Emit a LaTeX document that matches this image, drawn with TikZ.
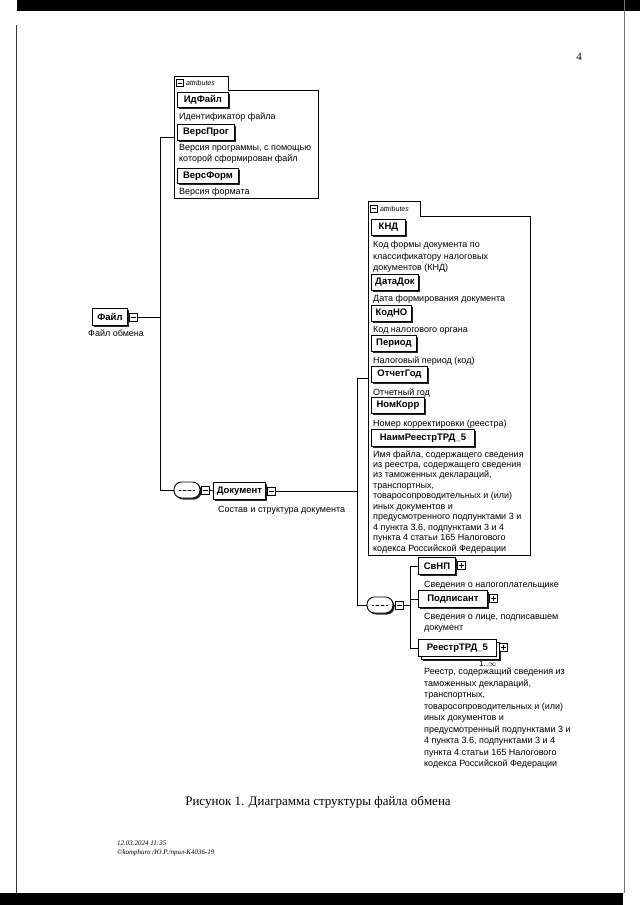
\documentclass[tikz,border=0pt]{standalone}
\usepackage{fontspec}
\setmainfont{Liberation Sans}
\newfontfamily\serif{Liberation Serif}
\usetikzlibrary{shadows,calc}
\begin{document}
\begin{tikzpicture}[x=1pt,y=-1pt,
  con/.style={line width=0.8pt},
  attline/.style={line width=0.8pt},
  desc/.style={anchor=north west, yshift=8.05pt, inner sep=0pt, align=left, font=\fontsize{9}{11.5}\selectfont, execute at begin node=\strut},
  desctight/.style={anchor=north west, yshift=7.3pt, inner sep=0pt, align=left, font=\fontsize{9}{10.45}\selectfont, execute at begin node=\strut},
  elbase/.style={draw, line width=0.9pt, fill=white, anchor=north west, inner sep=0pt, font=\bfseries\fontsize{9.5}{11}\selectfont},
  el/.style={elbase, general shadow={shadow xshift=2pt, shadow yshift=-2pt, fill=black!85}},
  elmult/.style={elbase, general shadow={shadow xshift=4.5pt, shadow yshift=-4.5pt, fill=black!85},
                 general shadow={shadow xshift=2.5pt, shadow yshift=-2.5pt, fill=white, draw=black, line width=0.8pt}},
  ibox/.style={draw, fill=white, minimum size=8pt, inner sep=0pt, line width=0.7pt},
  imin/.style={ibox, path picture={\draw[line width=0.8pt] ([xshift=1.5pt]path picture bounding box.west) -- ([xshift=-1.5pt]path picture bounding box.east);}},
  iplus/.style={ibox, path picture={\draw[line width=0.8pt] ([xshift=1.5pt]path picture bounding box.west) -- ([xshift=-1.5pt]path picture bounding box.east); \draw[line width=0.8pt] ([yshift=-1.5pt]path picture bounding box.north) -- ([yshift=1.5pt]path picture bounding box.south);}},
  comp/.style={draw, line width=0.9pt, fill=white, rounded corners=7.5pt, minimum width=26pt, minimum height=16pt, inner sep=0pt,
     general shadow={shadow xshift=1.5pt, shadow yshift=-1.5pt, fill=black!85},
     path picture={\draw[line width=0.8pt] ([xshift=5pt]path picture bounding box.west) -- ([xshift=-5pt]path picture bounding box.east);
       \foreach \d in {-5,0,5} \fill ([xshift=\d pt]path picture bounding box.center) circle (1.2pt);}},
  attab/.style={anchor=west, inner sep=0pt, font=\itshape\fontsize{7}{8}\selectfont}
]
\useasboundingbox (0,0) rectangle (640,905);
% scan edges
\fill[black] (17,0) rectangle (640,11);
\fill[black] (0,893) rectangle (623,905);
\draw[line width=1.2pt, black!80] (16.5,25) -- (16.5,893);
\draw[line width=0.8pt, black!55] (624,0) -- (624,893);

\node[font=\serif\fontsize{11}{12}\selectfont] (pg) at (579,57) {4};

% ---- File ----
\node[el, minimum width=35pt, minimum height=17pt] (file) at (92,308) {Файл};
\node[imin] (fI) at (133,317) {};
\node[desc] (fileD) at (88,336) {Файл обмена};

% ---- attributes 1 ----
\node[inner sep=0pt, anchor=north west, minimum width=144pt, minimum height=108pt] (att1) at (174,90) {};
\node[inner sep=0pt, anchor=south west, minimum width=54pt, minimum height=13pt] (tab1) at (att1.north west) {};
\draw[attline, fill=white] (att1.south west) -- (tab1.north west) -- (tab1.north east) -- (tab1.south east) -- (att1.north east) -- (att1.south east) -- cycle;
\node[imin, minimum size=7pt] (tab1i) at ($(tab1.west)+(6,0)$) {};
\node[attab] (tab1t) at ($(tab1i.east)+(2,0)$) {attributes};
\coordinate (att1c) at ($(tab1.north west)!0.5!(att1.south west)$);

\node[el, minimum width=51pt, minimum height=15pt] (idf) at (177,92) {ИдФайл};
\node[desc] (idfD) at (179,119) {Идентификатор файла};
\node[el, minimum width=57pt, minimum height=16pt] (vprog) at (177,124) {ВерсПрог};
\node[desc] (vprogD) at (179,152) {Версия программы, с помощью\\которой сформирован файл};
\node[el, minimum width=61pt, minimum height=15pt] (vform) at (177,168) {ВерсФорм};
\node[desc] (vformD) at (179,194) {Версия формата};

% ---- sequence 1 and Документ ----
\node[comp] (comp1) at (187,490) {};
\node[imin] (c1I) at (205,490) {};
\node[el, minimum width=52pt, minimum height=17pt] (doc) at (213,482) {Документ};
\node[imin] (docI) at (271,491) {};
\node[desc] (docD) at (218,512) {Состав и структура документа};

% ---- attributes 2 ----
\node[inner sep=0pt, anchor=north west, minimum width=162pt, minimum height=339pt] (att2) at (368,216) {};
\node[inner sep=0pt, anchor=south west, minimum width=52pt, minimum height=14pt] (tab2) at (att2.north west) {};
\draw[attline, fill=white] (att2.south west) -- (tab2.north west) -- (tab2.north east) -- (tab2.south east) -- (att2.north east) -- (att2.south east) -- cycle;
\node[imin, minimum size=7pt] (tab2i) at ($(tab2.west)+(6,0)$) {};
\node[attab] (tab2t) at ($(tab2i.east)+(2,0)$) {attributes};
\coordinate (att2c) at ($(tab2.north west)!0.5!(att2.south west)$);

\node[el, minimum width=34pt, minimum height=16pt] (knd) at (371,219) {КНД};
\node[desc] (kndD) at (373,249) {Код формы документа по\\классификатору налоговых\\документов (КНД)};
\node[el, minimum width=47pt, minimum height=16pt] (datadok) at (371,274) {ДатаДок};
\node[desc] (datadokD) at (373,301) {Дата формирования документа};
\node[el, minimum width=40pt, minimum height=16pt] (kodno) at (371,305) {КодНО};
\node[desc] (kodnoD) at (373,332) {Код налогового органа};
\node[el, minimum width=45pt, minimum height=16pt] (period) at (371,335) {Период};
\node[desc] (periodD) at (373,363) {Налоговый период (код)};
\node[el, minimum width=56pt, minimum height=16pt] (otch) at (371,366) {ОтчетГод};
\node[desc] (otchD) at (373,395) {Отчетный год};
\node[el, minimum width=53pt, minimum height=16pt] (nomk) at (371,397) {НомКорр};
\node[desc] (nomkD) at (373,426) {Номер корректировки (реестра)};
\node[el, minimum width=103pt, minimum height=17pt] (naim) at (371,429) {НаимРеестрТРД\_5};
\node[desctight] (naimD) at (373,457.5) {Имя файла, содержащего сведения\\из реестра, содержащего сведения\\из таможенных деклараций,\\транспортных,\\товаросопроводительных и (или)\\иных документов и\\предусмотренного подпунктами 3 и\\4 пункта 3.6, подпунктами 3 и 4\\пункта 4 статьи 165 Налогового\\кодекса Российской Федерации};

% ---- sequence 2 ----
\node[comp] (comp2) at (380,605) {};
\node[imin] (c2I) at (399,605) {};
\node[el, minimum width=37pt, minimum height=17pt] (sanp) at (418,557) {СвНП};
\node[iplus] (sanpI) at (461,565.5) {};
\node[desc] (sanpD) at (424,587) {Сведения о налогоплательщике};
\node[el, minimum width=69pt, minimum height=17pt] (podp) at (418,590) {Подписант};
\node[iplus] (podpI) at (493,598.5) {};
\node[desc] (podpD) at (424,621) {Сведения о лице, подписавшем\\документ};
\node[elmult, minimum width=78pt, minimum height=17pt] (reestr) at (418,639) {РеестрТРД\_5};
\node[iplus] (reestrI) at (503,647.5) {};
\node[anchor=base west, inner sep=0pt, font=\fontsize{8}{9}\selectfont] (occ) at (479,666) {1..$\infty$};
\node[desc] (reestrD) at (424,676) {Реестр, содержащий сведения из\\таможенных деклараций,\\транспортных,\\товаросопроводительных и (или)\\иных документов и\\предусмотренный подпунктами 3 и\\4 пункта 3.6, подпунктами 3 и 4\\пункта 4 статьи 165 Налогового\\кодекса Российской Федерации};

% ---- connectors ----
\coordinate (spA) at (160,0);
\coordinate (spB) at (357,0);
\coordinate (spC) at (410,0);
\draw[con] (fI.east) -- (fI.east -| spA);
\draw[con] (att1c) -| (spA |- comp1.west) -- (comp1.west);
\draw[con] (comp1.east) -- (c1I.west);
\draw[con] (c1I.east) -- (doc.west);
\draw[con] (docI.east) -- (docI.east -| spB);
\draw[con] (att2c) -| (spB |- comp2.west) -- (comp2.west);
\draw[con] (comp2.east) -- (c2I.west);
\draw[con] (c2I.east) -- (c2I.east -| spC);
\draw[con] (sanp.west) -| (spC |- reestr.west) -- (reestr.west);
\draw[con] (podp.west) -- (podp.west -| spC);

% ---- caption and footer ----
\node[font=\serif\fontsize{13}{15}\selectfont] (cap) at (318,802) {Рисунок 1. Диаграмма структуры файла обмена};
\node[anchor=north west, yshift=6.7pt, inner sep=0pt, align=left, font=\serif\itshape\fontsize{7}{9.5}\selectfont, execute at begin node=\strut] (foot) at (117,847) {12.03.2024 11:35\\©komphuro /Ю.Р./прил-К4036-19};
\end{tikzpicture}
\end{document}
